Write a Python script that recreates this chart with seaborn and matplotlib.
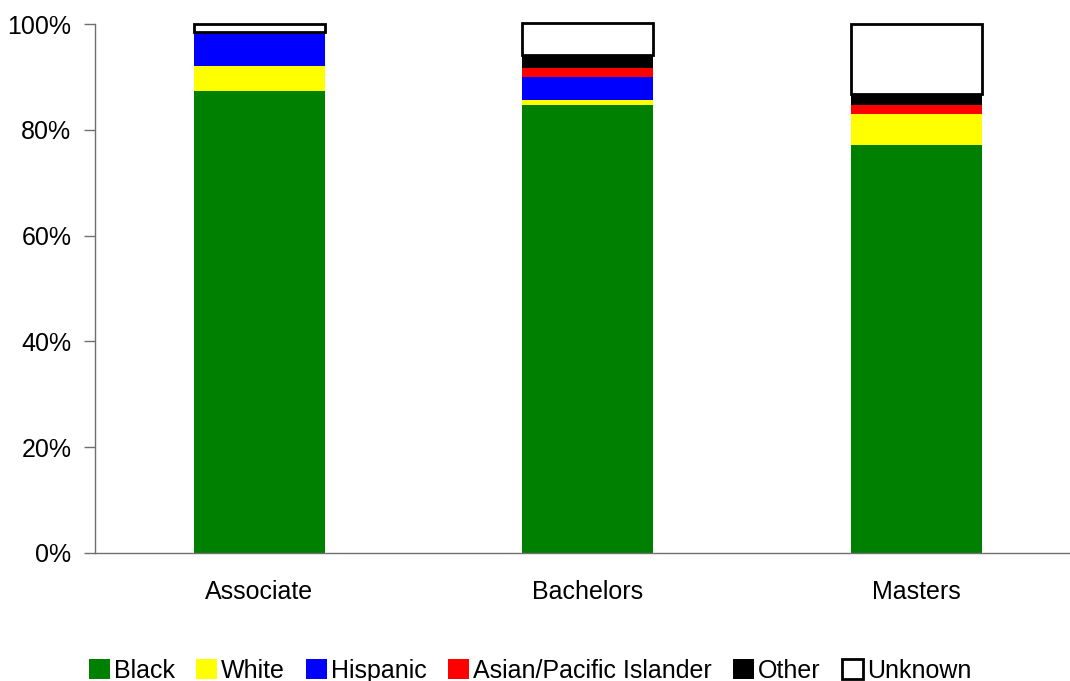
import matplotlib
matplotlib.use('Agg')
import matplotlib.pyplot as plt
import seaborn as sns
import numpy as np
import pandas as pd
from matplotlib.ticker import PercentFormatter

degrees = ["Associate", "Bachelors", "Masters"]
groups = ["Black", "White", "Hispanic", "Asian/Pacific Islander", "Other", "Unknown"]
black = [87.3, 84.6, 77.1]
white = [4.8, 1.1, 5.9]
hispanic = [6.3, 4.2, 0.0]
asian = [0.0, 1.8, 1.7]
other = [0.0, 2.5, 2.0]
unknown = [1.6, 5.9, 13.3]
colors = ["#008000", "#FFFF00", "#0000FF", "#FF0000", "#000000", "#FFFFFF"]

sns.set_style("white")
plt.rcParams['font.family'] = ['Liberation Sans', 'DejaVu Sans']
plt.rcParams['text.color'] = 'black'

fig = plt.figure(figsize=(10.7, 6.81), dpi=100)
ax = fig.add_axes([95 / 1070, 128 / 681, 975 / 1070, 529 / 681])

series = [black, white, hispanic, asian, other, unknown]
bottom = np.zeros(len(degrees))
for name, vals, col in zip(groups, series, colors):
    df = pd.DataFrame({"degree": degrees, "pct": vals})
    edge = "black" if name == "Unknown" else col
    lw = 2 if name == "Unknown" else 0
    sns.barplot(data=df, x="degree", y="pct", color=col, ax=ax, width=0.4,
                saturation=1, bottom=bottom, edgecolor=edge, linewidth=lw,
                label=name, clip_on=False)
    bottom = bottom + np.array(vals)

ax.set_xlim(-0.5, -0.5 + 975 / 328.5)
ax.set_ylim(0, 100)
ax.set_yticks([0, 20, 40, 60, 80, 100])
ax.yaxis.set_major_formatter(PercentFormatter(decimals=0))
ax.set_xlabel("")
ax.set_ylabel("")
for s in ["top", "right"]:
    ax.spines[s].set_visible(False)
for s in ["left", "bottom"]:
    ax.spines[s].set_color("#707070")
    ax.spines[s].set_linewidth(1)
ax.tick_params(axis="y", which="major", left=True, length=8, width=1, color="#707070",
               labelsize=18, pad=9, labelcolor="black")
ax.tick_params(axis="x", bottom=False, labelsize=18, pad=16, labelcolor="black")

handles, labels = ax.get_legend_handles_labels()
if ax.get_legend():
    ax.get_legend().remove()
fig.legend(handles, labels, loc="center", bbox_to_anchor=(530 / 1070, 10 / 681),
           ncol=6, frameon=False, fontsize=18, handlelength=0.85, handleheight=0.85,
           handletextpad=0.15, columnspacing=0.85, borderaxespad=0, labelcolor="black")

fig.savefig("out.png", dpi=100)
